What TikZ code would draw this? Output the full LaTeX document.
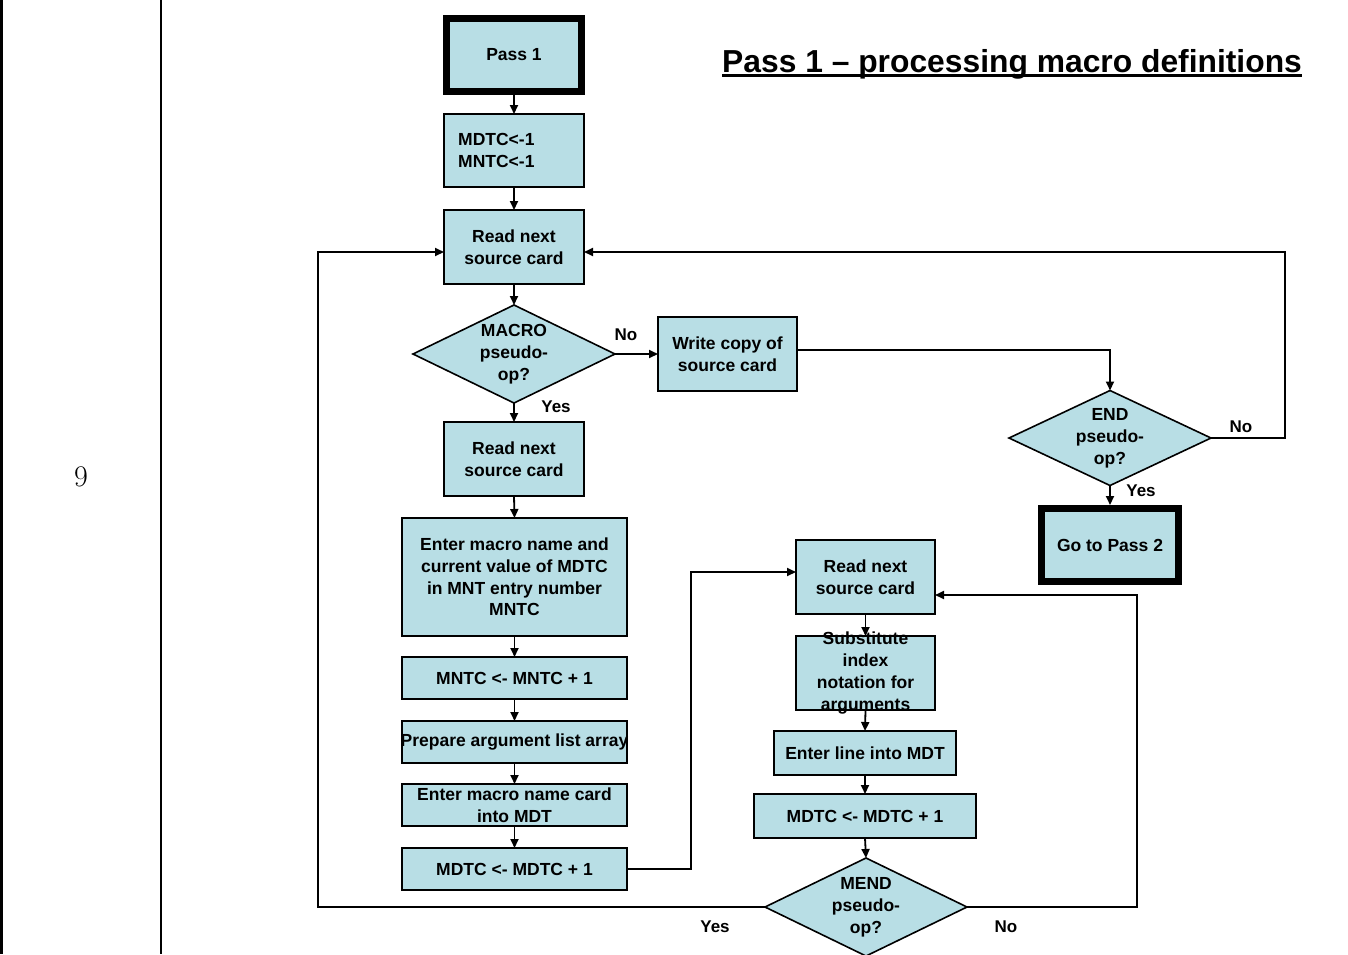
\documentclass[tikz,border=0pt]{standalone}
\usepackage{fontspec}
\newfontfamily\flowfont{Liberation Sans}
\usetikzlibrary{arrows.meta,shapes.geometric}
\definecolor{boxfill}{RGB}{184,222,229}

\tikzset{
  box/.style={draw=black, line width=1.8pt, fill=boxfill, rectangle, inner sep=0pt, outer sep=0pt},
  termbox/.style={box, line width=7pt, outer sep=3.5pt},
  decision/.style={draw=black, line width=1.6pt, fill=boxfill, diamond, inner sep=0pt, outer sep=0pt},
  boxtext/.style={font=\flowfont\bfseries\fontsize{17.5}{21.8}\selectfont, align=center, inner sep=0pt},
  ans/.style={font=\flowfont\bfseries\fontsize{17}{20}\selectfont, inner sep=0pt},
  flow/.style={line width=1.8pt, -{Triangle[length=9pt,width=8pt]}},
}

\begin{document}
\begin{tikzpicture}[x=1pt, y=-1pt]
\useasboundingbox (0,0) rectangle (1348,954);

% table frame and row number
\draw[line width=3pt] (1.5,0) -- (1.5,954);
\draw[line width=2.5pt] (161,0) -- (161,954);
\node[font=\fontsize{30}{34}\selectfont, inner sep=0pt] (rownum) at (81,477) {9};

% heading
\node[font=\flowfont\bfseries\fontsize{31.8}{36}\selectfont, inner sep=0pt, anchor=base west] (title) at (722,72) {Pass 1 – processing macro definitions};
\draw[line width=2.4pt] ([yshift=-3.5pt]title.base west) -- ([yshift=-3.5pt]title.base east);

% main column
\node[termbox, minimum width=135, minimum height=73, label={[boxtext]center:Pass 1}] (pass1) at (514,55) {};
\node[box, minimum width=140, minimum height=73] (mdtc) at (514,150.5) {};
\node[boxtext, align=left, anchor=west] (mdtctext) at ([xshift=14pt]mdtc.west) {MDTC<-1\\MNTC<-1};
\node[box, minimum width=140, minimum height=74, label={[boxtext]center:{Read next\\source card}}] (read1) at (514,247) {};
\node[decision, minimum width=202, minimum height=98, label={[boxtext]center:{MACRO\\pseudo-\\op?}}] (macro) at (514,354) {};
\node[box, minimum width=140, minimum height=74, label={[boxtext]center:{Read next\\source card}}] (read2) at (514,459) {};
\node[box, minimum width=225, minimum height=118, label={[boxtext]center:{Enter macro name and\\current value of MDTC\\in MNT entry number\\MNTC}}] (entermn) at (514.5,577) {};
\node[box, minimum width=225, minimum height=42, label={[boxtext]center:{MNTC <- MNTC + 1}}] (mntc) at (514.5,678) {};
\node[box, minimum width=225, minimum height=42, label={[boxtext]center:{Prepare argument list array}}] (prep) at (514.5,742) {};
\node[box, minimum width=225, minimum height=42, label={[boxtext]center:{Enter macro name card\\into MDT}}] (entercard) at (514.5,805) {};
\node[box, minimum width=225, minimum height=42, label={[boxtext]center:{MDTC <- MDTC + 1}}] (mdtcL) at (514.5,869) {};

% non-macro branch
\node[box, minimum width=139, minimum height=74, label={[boxtext]center:{Write copy of\\source card}}] (write) at (727.5,354) {};
\node[decision, minimum width=202, minimum height=95, label={[boxtext]center:{END\\pseudo-\\op?}}] (endd) at (1110,438) {};
\node[termbox, minimum width=137, minimum height=73, label={[boxtext]center:{Go to Pass 2}}] (go2) at (1110,545) {};

% macro body loop
\node[box, minimum width=139, minimum height=74, label={[boxtext]center:{Read next\\source card}}] (read3) at (865.5,577) {};
\node[box, minimum width=139, minimum height=74, label={[boxtext]center:{Substitute\\index\\notation for\\arguments}}] (subst) at (865.5,673) {};
\node[box, minimum width=182, minimum height=44, label={[boxtext]center:{Enter line into MDT}}] (enterline) at (865,753) {};
\node[box, minimum width=222, minimum height=44, label={[boxtext]center:{MDTC <- MDTC + 1}}] (mdtcR) at (865,816) {};
\node[decision, minimum width=202, minimum height=98, label={[boxtext]center:{MEND\\pseudo-\\op?}}] (mend) at (866,907) {};

% connectors
\draw[flow] (pass1.south) -- (mdtc.north);
\draw[flow] (mdtc.south) -- (read1.north);
\draw[flow] (read1.south) -- (macro.north);
\draw[flow] (macro.east) -- (write.west);
\draw[flow] (macro.south) -- (read2.north);
\draw[flow] (read2.south) -- (entermn.north);
\draw[flow] (entermn.south) -- (mntc.north);
\draw[flow] (mntc.south) -- (prep.north);
\draw[flow] (prep.south) -- (entercard.north);
\draw[flow] (entercard.south) -- (mdtcL.north);
\draw[flow] ([yshift=4pt]write.east) -| (endd.north);
\draw[flow] (endd.south) -- (go2.north);
\draw[flow] (endd.east) -- ++(74,0) |- ([yshift=-5pt]read1.east);
\draw[flow] (mdtcL.east) -- ++(64,0) |- ([yshift=5pt]read3.west);
\draw[flow] (read3.south) -- (subst.north);
\draw[flow] (subst.south) -- (enterline.north);
\draw[flow] (enterline.south) -- (mdtcR.north);
\draw[flow] (mdtcR.south) -- (mend.north);
\draw[flow] (mend.east) -- ++(170,0) |- ([yshift=-18pt]read3.east);
\draw[flow] (mend.west) -- ++(-447,0) |- ([yshift=-5pt]read1.west);

% branch labels
\node[ans] (macroNo) at (626,335) {No};
\node[ans] (macroYes) at (556,407) {Yes};
\node[ans] (endNo) at (1241,427) {No};
\node[ans] (endYes) at (1141,491) {Yes};
\node[ans] (mendYes) at (715,927) {Yes};
\node[ans] (mendNo) at (1006,927) {No};
\end{tikzpicture}
\end{document}
